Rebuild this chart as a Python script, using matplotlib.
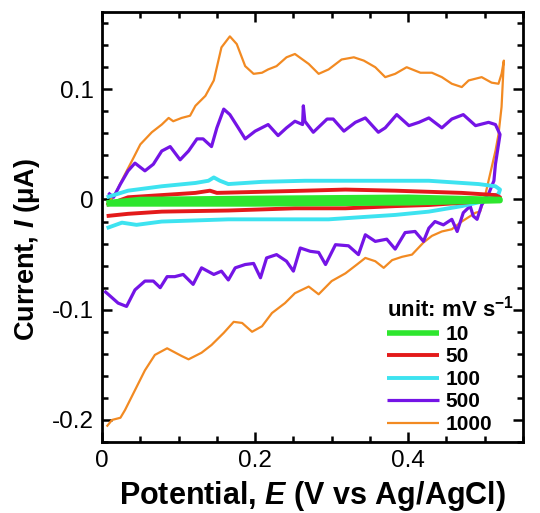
import numpy as np
import matplotlib
matplotlib.use("Agg")
import matplotlib.pyplot as plt

# --- data (potential in V, current in uA) ---
scan_rates = ["10", "50", "100", "500", "1000"]
colors = ["#2ee62e", "#e31a1a", "#3de3f0", "#7414e6", "#f28a22"]
widths = [4.0, 2.8, 2.8, 2.3, 1.6]

# 1000 mV/s
e_1000_fwd = [0.006, 0.017, 0.030, 0.039, 0.050, 0.065, 0.078, 0.087, 0.093, 0.104, 0.115,
              0.122, 0.135, 0.146, 0.156, 0.167, 0.176, 0.187, 0.198, 0.209, 0.217, 0.228,
              0.241, 0.252, 0.270, 0.283, 0.296, 0.313, 0.329, 0.342, 0.357, 0.370, 0.383,
              0.398, 0.416, 0.431, 0.444, 0.457, 0.470, 0.479, 0.496, 0.509, 0.518, 0.522, 0.525]
i_1000_fwd = [-0.005, 0.005, 0.023, 0.035, 0.050, 0.061, 0.068, 0.074, 0.071, 0.074, 0.076,
              0.085, 0.094, 0.108, 0.138, 0.148, 0.141, 0.121, 0.114, 0.115, 0.118, 0.121,
              0.129, 0.132, 0.123, 0.114, 0.118, 0.127, 0.129, 0.126, 0.120, 0.111, 0.114,
              0.120, 0.115, 0.115, 0.111, 0.105, 0.102, 0.108, 0.111, 0.106, 0.105, 0.114, 0.126]
e_1000_rev = [0.522, 0.518, 0.514, 0.507, 0.501, 0.494, 0.488, 0.470, 0.457, 0.444, 0.431,
              0.420, 0.405, 0.392, 0.379, 0.368, 0.357, 0.344, 0.333, 0.318, 0.300, 0.283,
              0.270, 0.252, 0.239, 0.222, 0.209, 0.196, 0.183, 0.172, 0.159, 0.143, 0.130,
              0.113, 0.104, 0.085, 0.069, 0.056, 0.043, 0.030, 0.024, 0.013, 0.006]
i_1000_rev = [0.084, 0.059, 0.044, 0.023, 0.005, -0.011, -0.012, -0.020, -0.027, -0.029, -0.033,
              -0.039, -0.050, -0.052, -0.055, -0.062, -0.056, -0.053, -0.059, -0.067, -0.074, -0.086,
              -0.079, -0.085, -0.094, -0.103, -0.115, -0.120, -0.112, -0.111, -0.121, -0.132, -0.139,
              -0.145, -0.142, -0.135, -0.141, -0.155, -0.173, -0.191, -0.198, -0.200, -0.206]

# 500 mV/s
e_500_fwd = [0.008, 0.015, 0.024, 0.034, 0.043, 0.056, 0.067, 0.078, 0.089, 0.102, 0.113,
             0.124, 0.132, 0.143, 0.150, 0.159, 0.167, 0.178, 0.187, 0.200, 0.217, 0.230,
             0.241, 0.252, 0.262, 0.263, 0.265, 0.276, 0.294, 0.302, 0.316, 0.331, 0.344,
             0.361, 0.370, 0.385, 0.401, 0.414, 0.427, 0.444, 0.457, 0.472, 0.488, 0.505,
             0.514, 0.520]
i_500_fwd = [0.006, 0.002, 0.014, 0.026, 0.033, 0.026, 0.032, 0.044, 0.048, 0.036, 0.044,
             0.055, 0.055, 0.048, 0.065, 0.082, 0.077, 0.065, 0.055, 0.062, 0.068, 0.058,
             0.065, 0.071, 0.068, 0.085, 0.071, 0.061, 0.073, 0.073, 0.062, 0.070, 0.074,
             0.061, 0.065, 0.077, 0.067, 0.070, 0.074, 0.065, 0.073, 0.077, 0.067, 0.070,
             0.068, 0.059]
e_500_rev = [0.518, 0.514, 0.512, 0.505, 0.496, 0.490, 0.485, 0.481, 0.472, 0.464, 0.457,
             0.446, 0.435, 0.427, 0.420, 0.409, 0.396, 0.383, 0.372, 0.357, 0.344, 0.335,
             0.322, 0.305, 0.292, 0.283, 0.272, 0.259, 0.250, 0.241, 0.228, 0.215, 0.207,
             0.198, 0.187, 0.174, 0.165, 0.156, 0.146, 0.130, 0.119, 0.106, 0.095, 0.085,
             0.076, 0.067, 0.056, 0.043, 0.032, 0.021, 0.008, 0.003]
i_500_rev = [0.050, 0.032, 0.017, 0.005, -0.005, -0.018, -0.015, -0.006, -0.012, -0.029, -0.018,
             -0.023, -0.020, -0.026, -0.038, -0.029, -0.030, -0.045, -0.036, -0.038, -0.032, -0.050,
             -0.042, -0.041, -0.059, -0.048, -0.047, -0.044, -0.065, -0.056, -0.050, -0.053, -0.071,
             -0.058, -0.059, -0.062, -0.073, -0.065, -0.068, -0.062, -0.077, -0.068, -0.070, -0.070,
             -0.080, -0.074, -0.074, -0.082, -0.097, -0.094, -0.086, -0.083]

# 100 mV/s
e_100_fwd = [0.006, 0.034, 0.078, 0.122, 0.139, 0.146, 0.154, 0.165, 0.209, 0.265, 0.339,
             0.427, 0.492, 0.514, 0.520]
i_100_fwd = [0.002, 0.008, 0.012, 0.015, 0.017, 0.020, 0.017, 0.014, 0.016, 0.017, 0.017,
             0.017, 0.014, 0.012, 0.009]
e_100_rev = [0.518, 0.496, 0.470, 0.427, 0.383, 0.339, 0.296, 0.265, 0.209, 0.165, 0.122,
             0.078, 0.045, 0.026, 0.006]
i_100_rev = [0.005, -0.002, -0.006, -0.011, -0.014, -0.016, -0.018, -0.018, -0.018, -0.018, -0.019,
             -0.020, -0.023, -0.021, -0.026]

# 50 mV/s
e_50_fwd = [0.006, 0.034, 0.078, 0.122, 0.141, 0.150, 0.209, 0.265, 0.318, 0.383, 0.470, 0.514, 0.520]
i_50_fwd = [-0.005, 0.002, 0.004, 0.006, 0.008, 0.006, 0.007, 0.008, 0.009, 0.008, 0.006, 0.004, 0.002]
e_50_rev = [0.518, 0.470, 0.427, 0.383, 0.318, 0.252, 0.165, 0.078, 0.034, 0.006]
i_50_rev = [0.000, -0.003, -0.005, -0.006, -0.008, -0.008, -0.010, -0.011, -0.013, -0.015]

# 10 mV/s
e_10_fwd = [0.006, 0.05, 0.2, 0.4, 0.52]
i_10_fwd = [-0.003, 0.000, 0.001, 0.002, 0.000]
e_10_rev = [0.52, 0.4, 0.2, 0.05, 0.006]
i_10_rev = [-0.001, -0.003, -0.004, -0.004, -0.004]

x_ticks = [0, 0.2, 0.4]
y_ticks = [-0.2, -0.1, 0, 0.1]

curves = [
    (e_10_fwd + e_10_rev, i_10_fwd + i_10_rev),
    (e_50_fwd + e_50_rev, i_50_fwd + i_50_rev),
    (e_100_fwd + e_100_rev, i_100_fwd + i_100_rev),
    (e_500_fwd + e_500_rev, i_500_fwd + i_500_rev),
    (e_1000_fwd + e_1000_rev, i_1000_fwd + i_1000_rev),
]

plt.rcParams["font.family"] = ["Liberation Sans", "DejaVu Sans"]
plt.rcParams["axes.unicode_minus"] = False
plt.rcParams["mathtext.fontset"] = "custom"
plt.rcParams["mathtext.rm"] = "Liberation Sans:bold"
plt.rcParams["mathtext.it"] = "Liberation Sans:italic:bold"
plt.rcParams["mathtext.bf"] = "Liberation Sans:bold"

fig = plt.figure(figsize=(5.4, 5.13), dpi=100)
ax = fig.add_axes([0.189, 0.1384, 0.7795, 0.838])

handles = []
# slow scans drawn on top
for k in range(len(curves) - 1, -1, -1):
    e, i = curves[k]
    ln, = ax.plot(e, i, color=colors[k], lw=widths[k], solid_capstyle="butt",
                  zorder=2 + (len(curves) - k))
    handles.insert(0, ln)

ax.set_xlim(0, 0.55)
ax.set_ylim(-0.22, 0.17)
ax.set_xticks(x_ticks)
ax.set_xticklabels(["%g" % v for v in x_ticks])
ax.set_yticks(y_ticks)
ax.set_yticklabels(["%g" % v for v in y_ticks])
ax.set_xticks(np.arange(0, 0.551, 0.05), minor=True)
ax.set_yticks(np.arange(-0.22, 0.171, 0.02), minor=True)

ax.tick_params(which="both", direction="in", top=True, right=True, width=1.8, labelsize=17.5)
ax.tick_params(which="major", length=7, pad=6)
ax.tick_params(which="minor", length=4)
for s in ax.spines.values():
    s.set_linewidth(2.0)

ax.set_xlabel("Potential, $E$ (V vs Ag/AgCl)", fontsize=22, fontweight="bold", labelpad=5)
ax.set_ylabel("Current, $I$ (μA)", fontsize=19.5, fontweight="bold")
ax.yaxis.set_label_coords(-0.142, 0.447)

leg = ax.legend(handles, scan_rates, loc="upper left", bbox_to_anchor=(0.677, 0.341),
                frameon=False, title="unit: mV s$^{-1}$",
                prop={"weight": "bold", "size": 15},
                title_fontproperties={"weight": "bold", "size": 16},
                handlelength=2.5, handletextpad=0.3, labelspacing=0.17,
                borderpad=0, borderaxespad=0)
leg._legend_box.align = "left"

fig.savefig("out.png", dpi=100)
